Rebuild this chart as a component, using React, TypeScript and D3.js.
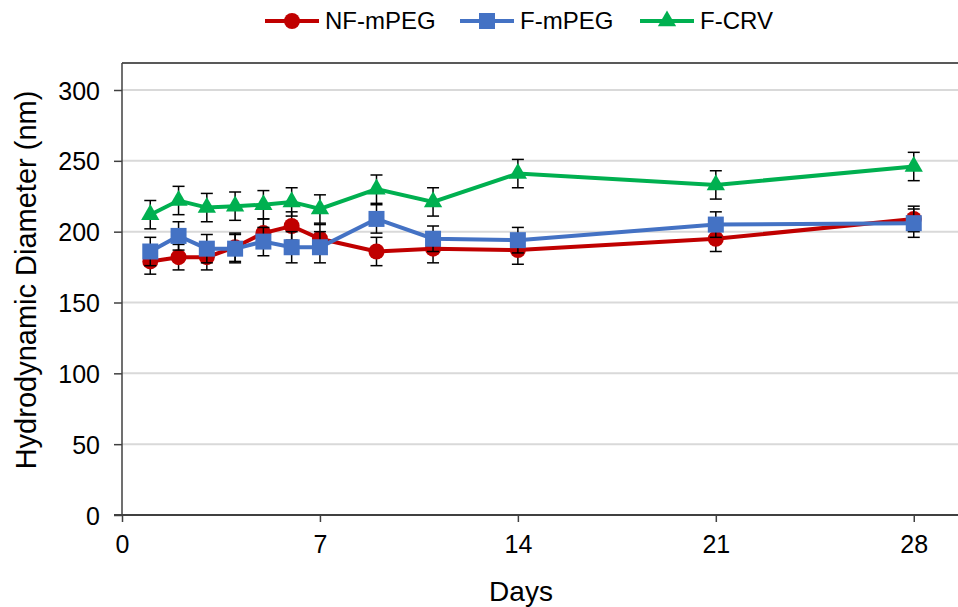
import { useEffect, useRef } from 'react';
import * as d3 from 'd3';

const days = [1, 2, 3, 4, 5, 6, 7, 9, 11, 14, 21, 28];
const nfMpeg = [179, 182, 182, 189, 199, 204, 195, 186, 188, 187, 195, 209];
const nfMpegErr = [9, 9, 9, 10, 10, 10, 10, 10, 10, 10, 9, 9];
const fMpeg = [186, 197, 188, 188, 193, 189, 189, 209, 195, 194, 205, 206];
const fMpegErr = [10, 10, 10, 10, 10, 11, 11, 10, 9, 9, 9, 10];
const fCrv = [212, 222, 217, 218, 219, 221, 216, 230, 221, 241, 233, 246];
const fCrvErr = [10, 10, 10, 10, 10, 10, 10, 10, 10, 10, 10, 10];

const xTicks = [0, 7, 14, 21, 28];
const yTicks = [0, 50, 100, 150, 200, 250, 300];

const series = [
  { name: 'NF-mPEG', values: nfMpeg, err: nfMpegErr, color: '#C00000', symbol: d3.symbolCircle, size: 200 },
  { name: 'F-mPEG', values: fMpeg, err: fMpegErr, color: '#4472C4', symbol: d3.symbolSquare, size: 256 },
  { name: 'F-CRV', values: fCrv, err: fCrvErr, color: '#00B050', symbol: d3.symbolTriangle, size: 145 },
];

const W = 958, H = 607;
const FONT = '"Liberation Sans", Arial, sans-serif';

export default function App() {
  const ref = useRef<SVGSVGElement>(null);

  useEffect(() => {
    const svg = d3.select(ref.current);
    svg.selectAll('*').remove();

    const x = d3.scaleLinear().domain([0, 29.6]).range([122, 959]);
    const y = d3.scaleLinear().domain([0, 300]).range([515, 90]);
    const top = 63;

    // gridlines
    svg.append('g').selectAll('line')
      .data(yTicks.filter(t => t > 0))
      .join('line')
      .attr('x1', 122).attr('x2', W)
      .attr('y1', d => y(d)).attr('y2', d => y(d))
      .attr('stroke', '#D9D9D9').attr('stroke-width', 2);

    // top border
    svg.append('line')
      .attr('x1', 122).attr('x2', W).attr('y1', top).attr('y2', top)
      .attr('stroke', '#595959').attr('stroke-width', 2);

    // y axis
    const yAxis = svg.append('g').attr('transform', 'translate(122,0)')
      .call(d3.axisLeft(y).tickValues(yTicks).tickSize(8).tickPadding(14));
    yAxis.select('.domain').remove();
    yAxis.append('line').attr('x1', 0).attr('x2', 0).attr('y1', top).attr('y2', 515)
      .attr('stroke', '#404040').attr('stroke-width', 1.5);
    yAxis.selectAll('.tick line').attr('stroke', '#404040').attr('stroke-width', 1.5);
    yAxis.selectAll('.tick text').attr('font-family', FONT).attr('font-size', 25).attr('fill', '#000')
      .attr('dy', '0.36em');

    // x axis
    const xAxis = svg.append('g').attr('transform', 'translate(0,515)')
      .call(d3.axisBottom(x).tickValues(xTicks).tickSize(7).tickPadding(13));
    xAxis.select('.domain').remove();
    xAxis.append('line').attr('x1', 114).attr('x2', W).attr('y1', 0).attr('y2', 0)
      .attr('stroke', '#404040').attr('stroke-width', 2);
    xAxis.selectAll('.tick line').attr('stroke', '#404040').attr('stroke-width', 1.5);
    xAxis.selectAll('.tick text').attr('font-family', FONT).attr('font-size', 25).attr('fill', '#000');

    // axis titles
    svg.append('text').attr('x', 521).attr('y', 601).attr('text-anchor', 'middle')
      .attr('font-family', FONT).attr('font-size', 28).text('Days');
    svg.append('text').attr('transform', 'translate(36,280) rotate(-90)').attr('text-anchor', 'middle')
      .attr('font-family', FONT).attr('font-size', 29).text('Hydrodynamic Diameter (nm)');

    const line = d3.line<number>().x((_, i) => x(days[i])).y(d => y(d));

    series.forEach(s => {
      const g = svg.append('g');
      // error bars
      const eb = g.append('g').selectAll('g').data(s.values).join('g');
      eb.append('line')
        .attr('x1', (_, i) => x(days[i])).attr('x2', (_, i) => x(days[i]))
        .attr('y1', (d, i) => y(d - s.err[i])).attr('y2', (d, i) => y(d + s.err[i]))
        .attr('stroke', '#000').attr('stroke-width', 1.5);
      [-1, 1].forEach(sign => {
        eb.append('line')
          .attr('x1', (_, i) => x(days[i]) - 6).attr('x2', (_, i) => x(days[i]) + 6)
          .attr('y1', (d, i) => y(d + sign * s.err[i])).attr('y2', (d, i) => y(d + sign * s.err[i]))
          .attr('stroke', '#000').attr('stroke-width', 1.5);
      });
      g.append('path').attr('d', line(s.values))
        .attr('fill', 'none').attr('stroke', s.color).attr('stroke-width', 4);
      g.append('g').selectAll('path').data(s.values).join('path')
        .attr('transform', (d, i) => `translate(${x(days[i])},${y(d)})`)
        .attr('d', d3.symbol(s.symbol, s.size)())
        .attr('fill', s.color);
    });

    // legend
    const legendX = [265, 460, 640];
    series.forEach((s, i) => {
      const lg = svg.append('g').attr('transform', `translate(${legendX[i]},21)`);
      lg.append('line').attr('x1', 0).attr('x2', 54).attr('y1', 0).attr('y2', 0)
        .attr('stroke', s.color).attr('stroke-width', 4);
      lg.append('path').attr('transform', 'translate(27,0)')
        .attr('d', d3.symbol(s.symbol, s.size)()).attr('fill', s.color);
      lg.append('text').attr('x', 60).attr('y', 8)
        .attr('font-family', FONT).attr('font-size', 24).text(s.name);
    });
  }, []);

  return (
    <svg ref={ref} width={W} height={H} style={{ position: 'absolute', left: 0, top: 0, background: '#fff' }} />
  );
}
